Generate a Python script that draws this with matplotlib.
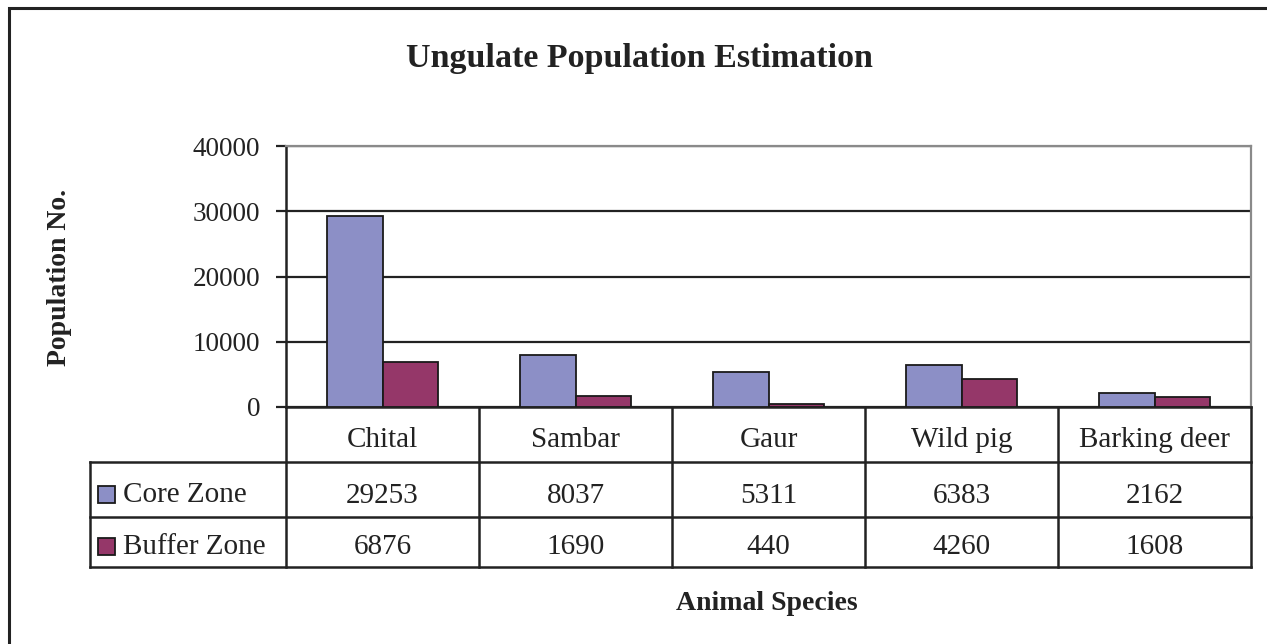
import matplotlib.pyplot as plt
import numpy as np
from matplotlib.patches import Rectangle

plt.rcParams['font.family'] = ['Liberation Serif', 'DejaVu Serif']

# data
species = ['Chital', 'Sambar', 'Gaur', 'Wild pig', 'Barking deer']
core_zone = [29253, 8037, 5311, 6383, 2162]
buffer_zone = [6876, 1690, 440, 4260, 1608]
series_names = ['Core Zone', 'Buffer Zone']
colors = ['#8C8FC6', '#953769']

W, H = 1267, 644
fig = plt.figure(figsize=(W / 100, H / 100), dpi=100)


def fx(px):
    return px / W


def fy(py):
    return 1 - py / H


# outer frame (right/bottom edges run off the picture)
fig.add_artist(Rectangle((fx(9), fy(700)), fx(1300) - fx(9), fy(8) - fy(700),
                         transform=fig.transFigure, fill=False,
                         edgecolor='#222222', linewidth=2.2))

# plot area
ax = fig.add_axes([fx(286), fy(407), fx(1251) - fx(286), fy(146) - fy(407)])
x = np.arange(len(species))
bw = 0.29
ax.bar(x - bw / 2, core_zone, bw, color=colors[0], edgecolor='#1a1a1a', linewidth=1.3, zorder=3)
ax.bar(x + bw / 2, buffer_zone, bw, color=colors[1], edgecolor='#1a1a1a', linewidth=1.3, zorder=3)
ax.set_xlim(-0.5, len(species) - 0.5)
ax.set_ylim(0, 40000)
ax.set_yticks(np.arange(0, 40001, 10000))
ax.set_xticks([])
ax.yaxis.grid(True, color='#222222', linewidth=1.6, zorder=0)
ax.tick_params(axis='y', labelsize=19.5, length=7.5, width=1.6, color='#222222', pad=11,
               labelcolor='#222222')
for s in ['top', 'right']:
    ax.spines[s].set_color('#8a8a8a')
    ax.spines[s].set_linewidth(1.6)
ax.spines['left'].set_linewidth(1.8)
ax.spines['left'].set_color('#222222')
ax.spines['bottom'].set_linewidth(1.8)
ax.spines['bottom'].set_color('#222222')

# data table below the plot
tb = fig.add_axes([fx(286), fy(567), fx(1251) - fx(286), fy(407) - fy(567)])
tb.set_xlim(-0.5, len(species) - 0.5)
tb.set_ylim(567, 407)
tb.axis('off')
ppx = (1251 - 286) / len(species)
left = -0.5 - (286 - 90) / ppx
lc = '#222222'
lw = 1.8
fs = 21
for yy in [462, 517, 567]:
    tb.plot([left, 4.5], [yy, yy], color=lc, lw=lw, clip_on=False, solid_capstyle='projecting')
tb.plot([left, left], [462, 567], color=lc, lw=lw, clip_on=False)
for i in range(len(species) + 1):
    tb.plot([i - 0.5, i - 0.5], [407, 567], color=lc, lw=lw, clip_on=False)
for i, name in enumerate(species):
    tb.text(i, 440, name, ha='center', va='center', fontsize=fs, color=lc)
    tb.text(i, 496, str(core_zone[i]), ha='center', va='center', fontsize=fs, color=lc)
    tb.text(i, 547, str(buffer_zone[i]), ha='center', va='center', fontsize=fs, color=lc)

# legend keys in the table
for name, col, yc in zip(series_names, colors, [494, 546]):
    tb.add_patch(Rectangle((left + (98 - 90) / ppx, yc - 8), 17 / ppx, 17, facecolor=col,
                           edgecolor='#1a1a1a', linewidth=1.3, clip_on=False))
    tb.text(left + (123 - 90) / ppx, yc + 1, name, ha='left', va='center',
            fontsize=fs, color=lc)

# titles
fig.text(fx(639), fy(59), 'Ungulate Population Estimation', ha='center', va='center',
         fontsize=24.5, fontweight='bold', color=lc)
fig.text(fx(767), fy(604), 'Animal Species', ha='center', va='center',
         fontsize=20, fontweight='bold', color=lc)
fig.text(fx(60), fy(277), 'Population No.', ha='center', va='center', rotation=90,
         fontsize=20, fontweight='bold', color=lc)

fig.savefig('out.png', dpi=100)
